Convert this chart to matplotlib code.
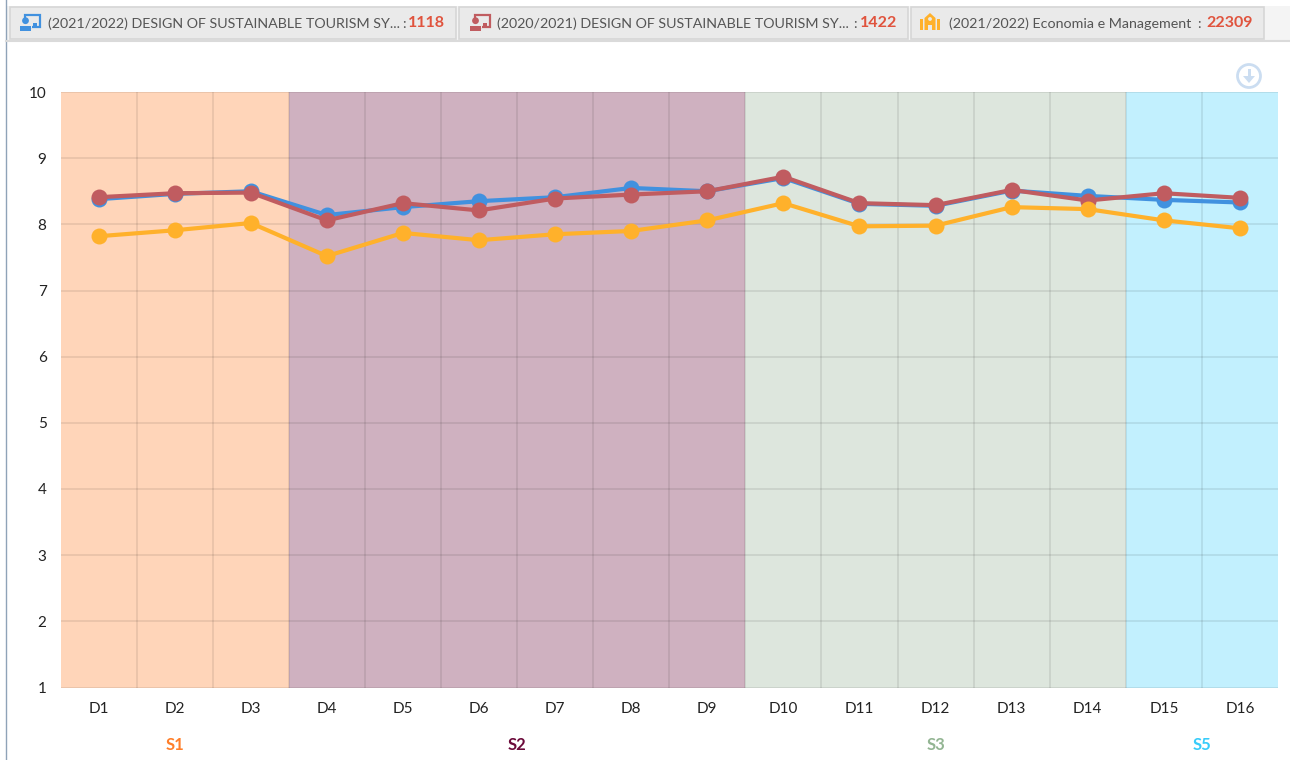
# -*- coding: utf-8 -*-
"""
Average scores per question (D1-D16) for two courses and their department,
with coloured bands for the survey sections and the comparison header on top.
"""

import matplotlib
matplotlib.use("Agg")
import matplotlib.pyplot as plt
from matplotlib.patches import Circle, Rectangle, Polygon

plt.rcParams["font.family"] = ["Lato", "DejaVu Sans"]

questions = ["D1", "D2", "D3", "D4", "D5", "D6", "D7", "D8", "D9", "D10",
             "D11", "D12", "D13", "D14", "D15", "D16"]
course_2021 = [8.38, 8.46, 8.50, 8.14, 8.26, 8.35, 8.41, 8.55, 8.50, 8.70,
               8.31, 8.28, 8.51, 8.43, 8.37, 8.33]
course_2020 = [8.41, 8.47, 8.48, 8.06, 8.32, 8.21, 8.39, 8.45, 8.50, 8.72,
               8.32, 8.29, 8.52, 8.36, 8.47, 8.40]
department = [7.82, 7.91, 8.02, 7.52, 7.87, 7.76, 7.85, 7.90, 8.06, 8.32,
              7.97, 7.98, 8.26, 8.23, 8.06, 7.94]

section_names = ["S1", "S2", "S3", "S5"]
section_counts = [3, 6, 5, 2]
section_fill = ["#FFD5B9", "#CFB1C0", "#DDE6DD", "#C2F0FE"]
section_text = ["#FF7F2A", "#6B0A3A", "#93B593", "#38CCFA"]

chip_labels = ["(2021/2022) DESIGN OF SUSTAINABLE TOURISM SY...",
               "(2020/2021) DESIGN OF SUSTAINABLE TOURISM SY...",
               "(2021/2022) Economia e Management"]
chip_counts = ["1118", "1422", "22309"]

BLUE = "#4191DF"
RED = "#C05C60"
ORANGE = "#FFB12B"
TEXT = "#222222"
CHIP = "#EAEAEA"

fig = plt.figure(figsize=(12.9, 7.6), dpi=100, facecolor="white")

## HEADER AND PAGE CHROME, in pixel coordinates ##
page = fig.add_axes([0, 0, 1, 1])
page.set_xlim(0, 1290)
page.set_ylim(760, 0)
page.axis("off")

page.plot([5.5, 5.5], [0, 760], color="#8FA3B8", lw=1)
page.add_patch(Rectangle((6, 6), 1284, 35, fc="#F4F4F4", ec="none"))
page.plot([6, 1290], [41, 41], color="#DADADA", lw=1.5)


def person_screen(x, color):
    page.add_patch(Rectangle((x + 4.5, 14.5), 15.5, 12, fc="none", ec=color, lw=1.6))
    page.add_patch(Rectangle((x + 2, 18), 10, 10, fc=CHIP, ec="none"))
    page.add_patch(Circle((x + 5.5, 20.7), 3.4, fc=color, ec="none"))
    page.add_patch(Rectangle((x, 25.5), 10.5, 5.5, fc=color, ec="none"))
    page.add_patch(Rectangle((x + 12.5, 22.5), 4.5, 3, fc=color, ec="none"))


def building(x, color):
    page.add_patch(Polygon([(x + 4.5, 30), (x + 4.5, 18), (x + 10, 13),
                            (x + 15.5, 18), (x + 15.5, 30)], fc=color, ec="none"))
    page.add_patch(Rectangle((x, 19), 3.4, 11, fc=color, ec="none"))
    page.add_patch(Rectangle((x + 16.6, 19), 3.4, 11, fc=color, ec="none"))
    page.add_patch(Rectangle((x + 8.2, 24.5), 3.6, 5.5, fc=CHIP, ec="none"))
    page.add_patch(Circle((x + 10, 19), 1.9, fc=CHIP, ec="none"))


chip_left = [10, 459, 911]
chip_right = [456, 908, 1264]
chip_text_x = [48, 497, 949]
chip_colon_x = [404, 855, 1199]
chip_count_x = [445, 897, 1253]
for i in range(3):
    page.add_patch(Rectangle((chip_left[i], 7), chip_right[i] - chip_left[i], 32,
                             fc=CHIP, ec="#D6D6D6", lw=1.2))
    page.text(chip_text_x[i], 24, chip_labels[i], fontsize=10.3, color="#555555",
              va="center", ha="left")
    page.text(chip_colon_x[i], 23.5, ":", fontsize=10.3, color="#555555",
              va="center", ha="center")
    page.text(chip_count_x[i], 23, chip_counts[i], fontsize=11.5, color="#E0533D",
              fontweight="bold", va="center", ha="right")
person_screen(20, BLUE)
person_screen(470, RED)
building(920, ORANGE)

# download button
page.add_patch(Circle((1249, 76), 11.5, fc="none", ec="#CBDDF1", lw=2))
page.add_patch(Rectangle((1247.5, 69), 3, 8, fc="#CBDDF1", ec="none"))
page.add_patch(Polygon([(1243, 76), (1255, 76), (1249, 83)], fc="#CBDDF1", ec="none"))

## CHART ##
ax = fig.add_axes([60.5 / 1290, 1 - 687.5 / 760, 1217.5 / 1290, 595.5 / 760])
ax.patch.set_alpha(0)

positions = list(range(len(questions)))
start = 0
for name, count, fill, text_color in zip(section_names, section_counts,
                                         section_fill, section_text):
    ax.axvspan(start - 0.5, start + count - 0.5, color=fill, lw=0, zorder=0)
    ax.text(start + count / 2 - 0.5, -0.0965, name, color=text_color,
            fontsize=12, fontweight="bold", ha="center", va="center",
            transform=ax.get_xaxis_transform())
    start += count

ax.set_xlim(-0.5, len(questions) - 0.5)
ax.set_ylim(1, 10)
ax.set_yticks(range(1, 11))
ax.set_xticks(positions)
ax.set_xticklabels(questions)
ax.set_xticks([p + 0.5 for p in positions[:-1]], minor=True)

ax.grid(axis="y", color="black", alpha=0.1, lw=1.1, zorder=1)
ax.grid(axis="x", which="minor", color="black", alpha=0.1, lw=1.1, zorder=1)
ax.grid(axis="x", which="major", visible=False)
ax.tick_params(axis="both", which="both", length=0, labelsize=11, colors=TEXT)
ax.tick_params(axis="x", pad=10.5)
ax.tick_params(axis="y", pad=10)
for spine in ax.spines.values():
    spine.set_visible(False)

for values, color in [(course_2021, BLUE), (course_2020, RED), (department, ORANGE)]:
    ax.plot(positions, values, color=color, lw=3, marker="o", markersize=11.5,
            markeredgewidth=0, zorder=3, clip_on=False)

plt.savefig("out.png", dpi=100)
plt.close()
